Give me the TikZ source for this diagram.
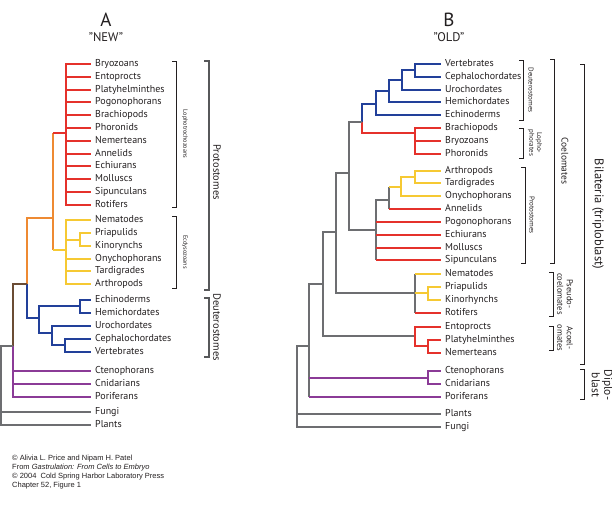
\documentclass[tikz,border=0pt]{standalone}
\usepackage{fontspec}
\setmainfont{PT Sans}
\newfontfamily\creditfont{Liberation Sans}
\usepackage{tikz}
\usetikzlibrary{positioning, calc}
\definecolor{cladeRed}{HTML}{E5312B}
\definecolor{cladeOrange}{HTML}{EE8A32}
\definecolor{cladeYellow}{HTML}{F6C933}
\definecolor{cladeBlue}{HTML}{22409A}
\definecolor{cladePurple}{HTML}{8B3B97}
\definecolor{cladeGrey}{HTML}{6D6E71}
\definecolor{cladeBrown}{HTML}{6B4C34}
\definecolor{ink}{HTML}{231F20}
\tikzset{
    branch/.style={line width=2pt, line join=miter},
    rb/.style={branch, draw=cladeRed},
    ob/.style={branch, draw=cladeOrange},
    yb/.style={branch, draw=cladeYellow},
    bb/.style={branch, draw=cladeBlue},
    pb/.style={branch, draw=cladePurple},
    gb/.style={branch, draw=cladeGrey},
    nb/.style={branch, draw=cladeBrown},
    leaf/.style={anchor=west, inner xsep=4pt, inner ysep=0pt, text height=7pt, text depth=2pt, font=\fontsize{10}{12}\selectfont, text=ink},
    group/.style={rotate=-90, inner sep=0pt, align=center, text=ink},
    brk/.style={line width=0.9pt, draw=ink},
    credit/.style={anchor=north west, align=left, inner sep=0pt, font=\creditfont\fontsize{7.5}{9}\selectfont, text=ink},
}

\begin{document}
\begin{tikzpicture}[x=1pt, y=-1pt]
    \useasboundingbox (0,0) rectangle (612,526);

    \node[font=\fontsize{19}{22}\selectfont, text=ink] (titA) at (106,20) {A};
    \node[font=\fontsize{12.5}{14}\selectfont, text=ink] (subA) at (106,37) {"NEW"};
    \node[font=\fontsize{19}{22}\selectfont, text=ink] (titB) at (449,20) {B};
    \node[font=\fontsize{12.5}{14}\selectfont, text=ink] (subB) at (449,37) {"OLD"};

    % tree A
    \node[leaf] (aBry) at (91,64) {Bryozoans};
    \node[leaf] (aEnt) at (91,77) {Entoprocts};
    \node[leaf] (aPlat) at (91,90) {Platyhelminthes};
    \node[leaf] (aPog) at (91,102) {Pogonophorans};
    \node[leaf] (aBra) at (91,115) {Brachiopods};
    \node[leaf] (aPho) at (91,128) {Phoronids};
    \node[leaf] (aNem) at (91,141) {Nemerteans};
    \node[leaf] (aAnn) at (91,154) {Annelids};
    \node[leaf] (aEch) at (91,166) {Echiurans};
    \node[leaf] (aMol) at (91,179) {Molluscs};
    \node[leaf] (aSip) at (91,192) {Sipunculans};
    \node[leaf] (aRot) at (91,205) {Rotifers};
    \node[leaf] (aNema) at (91,220) {Nematodes};
    \node[leaf] (aPri) at (91,233) {Priapulids};
    \node[leaf] (aKin) at (91,246) {Kinorynchs};
    \node[leaf] (aOny) at (91,259) {Onychophorans};
    \node[leaf] (aTar) at (91,271) {Tardigrades};
    \node[leaf] (aArt) at (91,284) {Arthropods};
    \node[leaf] (aEchi) at (91,300) {Echinoderms};
    \node[leaf] (aHem) at (91,313) {Hemichordates};
    \node[leaf] (aUro) at (91,326) {Urochordates};
    \node[leaf] (aCep) at (91,339) {Cephalochordates};
    \node[leaf] (aVer) at (91,352) {Vertebrates};
    \node[leaf] (aCte) at (91,371) {Ctenophorans};
    \node[leaf] (aCni) at (91,384) {Cnidarians};
    \node[leaf] (aPor) at (91,397) {Poriferans};
    \node[leaf] (aFun) at (91,412) {Fungi};
    \node[leaf] (aPlant) at (91,425) {Plants};

    \coordinate (aLop) at (66,133);
    \coordinate (aEcd) at (66,250);
    \coordinate (aPK) at (80,240);
    \coordinate (aPro) at (53,218);
    \coordinate (aEH) at (80,306);
    \coordinate (aCV) at (65,345);
    \coordinate (aCho) at (52,333);
    \coordinate (aDeu) at (39,318);
    \coordinate (aBil) at (27,284);
    \coordinate (aMet) at (13,346);
    \coordinate (aRoot) at (1,400);

    \draw[rb] (aLop) |- (aBry) (aLop) |- (aEnt) (aLop) |- (aPlat) (aLop) |- (aPog)
              (aLop) |- (aBra) (aLop) |- (aPho) (aLop) |- (aNem) (aLop) |- (aAnn)
              (aLop) |- (aEch) (aLop) |- (aMol) (aLop) |- (aSip) (aLop) |- (aRot);
    \draw[yb] (aEcd) |- (aNema) (aEcd) |- (aPK) (aEcd) |- (aOny) (aEcd) |- (aTar) (aEcd) |- (aArt);
    \draw[yb] (aPK) |- (aPri) (aPK) |- (aKin);
    \draw[ob] (aPro |- aLop) -- (aPro |- aEcd);
    \draw[rb] (aPro |- aLop) -- (aLop);
    \draw[yb] (aPro |- aEcd) -- (aEcd);
    \draw[ob] (aBil) |- (aPro);
    \draw[bb] (aBil) |- (aDeu) (aDeu) |- (aEH) (aDeu) |- (aCho);
    \draw[bb] (aEH) |- (aEchi) (aEH) |- (aHem);
    \draw[bb] (aCho) |- (aUro) (aCho) |- (aCV);
    \draw[bb] (aCV) |- (aCep) (aCV) |- (aVer);
    \draw[nb] (aMet) |- (aBil);
    \draw[pb] (aMet) |- (aCte) (aMet) |- (aCni) (aMet) |- (aPor);
    \draw[gb] (aRoot) |- (aMet) (aRoot) |- (aFun) (aRoot) |- (aPlant);

    % groups A
    \draw[brk, line width=0.8pt] (172,61) -| (176,207) -- (172,207);
    \draw[brk, line width=0.8pt] (172,216) -| (176,288) -- (172,288);
    \draw[brk, line width=1.2pt, draw=cladeGrey!80!black] (204,61) -| (209,290) -- (204,290);
    \draw[brk, line width=1.2pt, draw=cladeGrey!80!black] (204,298) -| (209,357) -- (204,357);
    \node[group, font=\fontsize{6.2}{7}\selectfont] (gLoph) at (185,134) {Lophotrochozoans};
    \node[group, font=\fontsize{6.2}{7}\selectfont] (gEcd) at (185,252) {Ecdysozoans};
    \node[group, font=\fontsize{10.5}{12}\selectfont] (gProA) at (217,172) {Protostomes};
    \node[group, font=\fontsize{10.5}{12}\selectfont] (gDeuA) at (217,327) {Deuterostomes};

    % tree B
    \node[leaf] (bVer) at (441,64) {Vertebrates};
    \node[leaf] (bCep) at (441,77) {Cephalochordates};
    \node[leaf] (bUro) at (441,90) {Urochordates};
    \node[leaf] (bHem) at (441,102) {Hemichordates};
    \node[leaf] (bEchi) at (441,115) {Echinoderms};
    \node[leaf] (bBra) at (441,128) {Brachiopods};
    \node[leaf] (bBry) at (441,141) {Bryozoans};
    \node[leaf] (bPho) at (441,154) {Phoronids};
    \node[leaf] (bArth) at (441,171) {Arthropods};
    \node[leaf] (bTar) at (441,183) {Tardigrades};
    \node[leaf] (bOny) at (441,196) {Onychophorans};
    \node[leaf] (bAnn) at (441,209) {Annelids};
    \node[leaf] (bPog) at (441,222) {Pogonophorans};
    \node[leaf] (bEch) at (441,235) {Echiurans};
    \node[leaf] (bMol) at (441,248) {Molluscs};
    \node[leaf] (bSip) at (441,260) {Sipunculans};
    \node[leaf] (bNema) at (441,274) {Nematodes};
    \node[leaf] (bPri) at (441,287) {Priapulids};
    \node[leaf] (bKin) at (441,300) {Kinorhynchs};
    \node[leaf] (bRot) at (441,313) {Rotifers};
    \node[leaf] (bEnt) at (441,327) {Entoprocts};
    \node[leaf] (bPlat) at (441,340) {Platyhelminthes};
    \node[leaf] (bNem) at (441,353) {Nemerteans};
    \node[leaf] (bCte) at (441,371) {Ctenophorans};
    \node[leaf] (bCni) at (441,384) {Cnidarians};
    \node[leaf] (bPor) at (441,397) {Poriferans};
    \node[leaf] (bPlant) at (441,414) {Plants};
    \node[leaf] (bFun) at (441,427) {Fungi};

    \coordinate (bVC) at (415,70);
    \coordinate (bChd) at (402,80);
    \coordinate (bHC) at (389,91);
    \coordinate (bDeu) at (376,104);
    \coordinate (bDL) at (362,122);
    \coordinate (bLop) at (415,133);
    \coordinate (bCoel) at (349,173);
    \coordinate (bArtTar) at (415,177);
    \coordinate (bPan) at (401,187);
    \coordinate (bArtAnn) at (389,200);
    \coordinate (bProt) at (376,230);
    \coordinate (bTri) at (336,232);
    \coordinate (bPse) at (415,293);
    \coordinate (bPK) at (428,293);
    \coordinate (bBil) at (323,284);
    \coordinate (bAco) at (415,336);
    \coordinate (bPN) at (428,346);
    \coordinate (bMet) at (309,346);
    \coordinate (bCC) at (428,378);
    \coordinate (bRoot) at (297,400);

    \draw[bb] (bVC) |- (bVer) (bVC) |- (bCep);
    \draw[bb] (bChd) |- (bVC) (bChd) |- (bUro);
    \draw[bb] (bHC) |- (bChd) (bHC) |- (bHem);
    \draw[bb] (bDeu) |- (bHC) (bDeu) |- (bEchi);
    \draw[bb] (bDL) |- (bDeu);
    \draw[rb] (bDL) |- (bLop);
    \draw[rb] (bLop) |- (bBra) (bLop) |- (bBry) (bLop) |- (bPho);
    \draw[gb] (bCoel) |- (bDL) (bCoel) |- (bProt);
    \draw[gb] (bProt) |- (bArtAnn) (bProt |- bSip) -- (bProt);
    \draw[rb] (bProt |- bPog) -- (bPog) (bProt |- bEch) -- (bEch)
              (bProt |- bMol) -- (bMol) (bProt |- bSip) -- (bSip);
    \draw[gb] (bArtAnn |- bPan) -- (bArtAnn |- bAnn);
    \draw[yb] (bArtAnn |- bPan) -- (bPan);
    \draw[rb] (bArtAnn |- bAnn) -- (bAnn);
    \draw[yb] (bPan) |- (bArtTar) (bPan) |- (bOny);
    \draw[yb] (bArtTar) |- (bArth) (bArtTar) |- (bTar);
    \draw[gb] (bTri) |- (bCoel) (bTri) |- (bPse);
    \draw[gb] (bPse |- bNema) -- (bPse |- bRot);
    \draw[yb] (bPse |- bNema) -- (bNema) (bPse) -- (bPK);
    \draw[rb] (bPse |- bRot) -- (bRot);
    \draw[yb] (bPK) |- (bPri) (bPK) |- (bKin);
    \draw[gb] (bBil) |- (bTri) (bBil) |- (bAco);
    \draw[rb] (bAco) |- (bEnt) (bAco) |- (bPN);
    \draw[rb] (bPN) |- (bPlat) (bPN) |- (bNem);
    \draw[gb] (bMet) |- (bBil) (bMet |- bPor) -- (bMet);
    \draw[pb] (bMet |- bCC) -- (bCC) (bMet |- bPor) -- (bPor);
    \draw[pb] (bCC) |- (bCte) (bCC) |- (bCni);
    \draw[gb] (bRoot) |- (bMet) (bRoot) |- (bPlant) (bRoot) |- (bFun);

    % groups B
    \draw[brk] (519,60) -| (523,120) -- (519,120);
    \draw[brk] (519,128) -| (523,158) -- (519,158);
    \draw[brk] (521,167) -| (525,263) -- (521,263);
    \draw[brk] (550,59) -| (554,263) -- (550,263);
    \draw[brk] (549,272) -| (553,316) -- (549,316);
    \draw[brk] (549,326) -| (553,350) -- (549,350);
    \draw[brk] (580,64) -| (584,364) -- (580,364);
    \draw[brk] (580,369) -| (584,399) -- (580,399);
    \node[group, font=\fontsize{7}{7.6}\selectfont] (gDeuB) at (531,90) {Deuterostomes};
    \node[group, font=\fontsize{7}{7.6}\selectfont] (gLopB) at (535,143) {Lopho-\\phorates};
    \node[group, font=\fontsize{7}{7.6}\selectfont] (gProB) at (532,215) {Protostomes};
    \node[group, font=\fontsize{9.5}{11}\selectfont] (gCoel) at (565,161) {Coelomates};
    \node[group, font=\fontsize{8.5}{9.5}\selectfont] (gPse) at (565,294) {Pseudo-\\coelomates};
    \node[group, font=\fontsize{8.5}{9.5}\selectfont] (gAco) at (565,338) {Acoel-\\omates};
    \node[group, font=\fontsize{12.5}{14}\selectfont] (gBil) at (598,214) {Bilateria (triploblast)};
    \node[group, font=\fontsize{11.5}{12.5}\selectfont] (gDip) at (602,385) {Diplo-\\blast};

    \node[credit] (cred) at (12,454.5) {© Alivia L. Price and Nipam H. Patel\\
        From \textit{Gastrulation: From Cells to Embryo}\\
        © 2004~~Cold Spring Harbor Laboratory Press\\
        Chapter 52, Figure 1};
\end{tikzpicture}
\end{document}
